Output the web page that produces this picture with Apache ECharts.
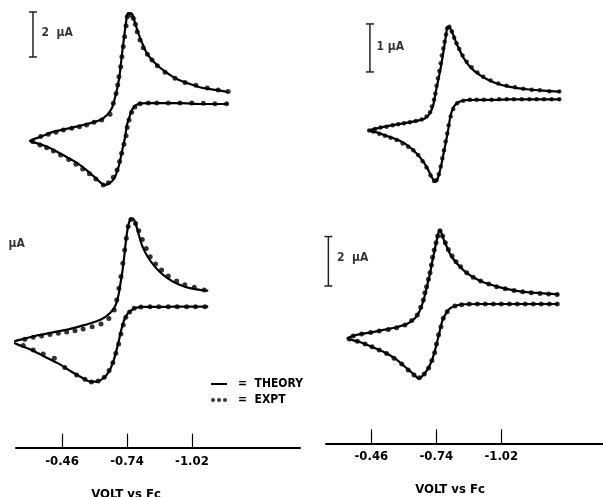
<!DOCTYPE html>
<html>
<head>
<meta charset="utf-8">
<script src="https://cdn.jsdelivr.net/npm/echarts@6/dist/echarts.min.js"></script>
<style>html,body{margin:0;padding:0;background:#fff}#c{width:603px;height:497px}</style>
</head>
<body>
<div id="c"></div>
<script>
// Potential (V vs Fc) and current (µA, cathodic up, relative to starting baseline)
var tickValues = [-0.46, -0.74, -1.02];

var tlTheory = [[-1.175,0],[-1.067,0],[-0.968,0.04],[-0.882,0.04],[-0.826,0.04],[-0.787,0],[-0.766,-0.18],[-0.753,-0.49],[-0.740,-0.93],[-0.731,-1.51],[-0.718,-2.13],[-0.706,-2.71],[-0.688,-3.24],[-0.667,-3.51],[-0.645,-3.60],[-0.624,-3.47],[-0.581,-3.07],[-0.525,-2.62],[-0.464,-2.27],[-0.408,-1.96],[-0.365,-1.78],[-0.322,-1.64],[-0.365,-1.47],[-0.421,-1.24],[-0.494,-1.07],[-0.568,-0.89],[-0.624,-0.71],[-0.654,-0.49],[-0.675,-0.18],[-0.688,0.27],[-0.701,0.84],[-0.710,1.42],[-0.718,2.18],[-0.727,2.93],[-0.736,3.64],[-0.744,4.04],[-0.762,4.00],[-0.774,3.64],[-0.787,3.20],[-0.809,2.62],[-0.830,2.18],[-0.869,1.73],[-0.912,1.38],[-0.955,1.11],[-1.011,0.89],[-1.067,0.71],[-1.128,0.62],[-1.175,0.53]];
var tlExpt = [[-1.169,0.01],[-1.119,0.01],[-1.069,0.03],[-1.019,0.04],[-0.968,0.04],[-0.918,0.04],[-0.868,0.04],[-0.832,0.04],[-0.796,0.01],[-0.774,-0.13],[-0.760,-0.37],[-0.749,-0.71],[-0.741,-1.05],[-0.736,-1.41],[-0.727,-1.79],[-0.717,-2.19],[-0.708,-2.56],[-0.697,-2.93],[-0.681,-3.26],[-0.660,-3.50],[-0.638,-3.60],[-0.606,-3.33],[-0.578,-3.10],[-0.549,-2.89],[-0.520,-2.68],[-0.489,-2.47],[-0.454,-2.27],[-0.423,-2.09],[-0.394,-1.94],[-0.365,-1.82],[-0.334,-1.67],[-0.368,-1.45],[-0.401,-1.35],[-0.434,-1.26],[-0.466,-1.16],[-0.502,-1.08],[-0.535,-1.01],[-0.566,-0.93],[-0.598,-0.81],[-0.631,-0.71],[-0.667,-0.46],[-0.681,0.03],[-0.693,0.47],[-0.700,0.84],[-0.705,1.21],[-0.713,1.66],[-0.718,2.10],[-0.724,2.55],[-0.730,2.99],[-0.736,3.48],[-0.741,3.88],[-0.756,3.96],[-0.767,3.81],[-0.776,3.54],[-0.784,3.21],[-0.796,2.84],[-0.810,2.50],[-0.828,2.21],[-0.848,1.96],[-0.871,1.70],[-0.904,1.41],[-0.947,1.14],[-0.990,0.96],[-1.037,0.83],[-1.086,0.71],[-1.133,0.62],[-1.176,0.55]];

var trTheory = [[-1.273,0],[-1.201,0],[-1.129,0],[-1.057,0],[-0.985,-0.01],[-0.914,-0.01],[-0.863,-0.02],[-0.835,-0.06],[-0.816,-0.15],[-0.802,-0.33],[-0.792,-0.61],[-0.782,-0.88],[-0.770,-1.16],[-0.760,-1.40],[-0.749,-1.61],[-0.738,-1.72],[-0.724,-1.65],[-0.705,-1.47],[-0.684,-1.30],[-0.655,-1.13],[-0.619,-0.97],[-0.576,-0.85],[-0.526,-0.76],[-0.483,-0.69],[-0.451,-0.65],[-0.490,-0.60],[-0.540,-0.55],[-0.598,-0.50],[-0.655,-0.45],[-0.691,-0.40],[-0.713,-0.29],[-0.727,-0.12],[-0.738,0.16],[-0.750,0.44],[-0.761,0.71],[-0.773,1.06],[-0.782,1.34],[-0.789,1.51],[-0.799,1.49],[-0.813,1.34],[-0.830,1.13],[-0.849,0.94],[-0.873,0.75],[-0.906,0.58],[-0.950,0.44],[-1.000,0.33],[-1.057,0.26],[-1.129,0.21],[-1.201,0.18],[-1.273,0.16]];
var trExpt = [[-1.270,0],[-1.237,0],[-1.204,0],[-1.172,0],[-1.141,0],[-1.108,0],[-1.074,0],[-1.043,0],[-1.011,0],[-0.978,-0.01],[-0.945,-0.01],[-0.914,-0.01],[-0.885,-0.01],[-0.856,-0.03],[-0.830,-0.08],[-0.813,-0.20],[-0.802,-0.36],[-0.793,-0.54],[-0.787,-0.71],[-0.780,-0.88],[-0.773,-1.06],[-0.766,-1.23],[-0.759,-1.40],[-0.751,-1.56],[-0.741,-1.68],[-0.730,-1.70],[-0.715,-1.58],[-0.698,-1.42],[-0.681,-1.29],[-0.662,-1.16],[-0.641,-1.06],[-0.619,-0.99],[-0.595,-0.92],[-0.569,-0.85],[-0.543,-0.80],[-0.519,-0.76],[-0.494,-0.72],[-0.468,-0.67],[-0.451,-0.65],[-0.476,-0.62],[-0.500,-0.59],[-0.526,-0.57],[-0.552,-0.54],[-0.576,-0.52],[-0.601,-0.50],[-0.626,-0.48],[-0.652,-0.45],[-0.677,-0.42],[-0.698,-0.36],[-0.713,-0.27],[-0.721,-0.15],[-0.730,-0.01],[-0.736,0.12],[-0.741,0.28],[-0.747,0.44],[-0.753,0.59],[-0.759,0.75],[-0.764,0.91],[-0.770,1.06],[-0.776,1.20],[-0.782,1.35],[-0.787,1.48],[-0.796,1.51],[-0.807,1.41],[-0.817,1.28],[-0.827,1.17],[-0.839,1.05],[-0.853,0.91],[-0.871,0.78],[-0.892,0.67],[-0.917,0.56],[-0.942,0.47],[-0.974,0.39],[-1.007,0.33],[-1.043,0.28],[-1.079,0.25],[-1.115,0.22],[-1.151,0.20],[-1.186,0.19],[-1.227,0.17],[-1.270,0.16]];

var blTheory = [[-1.090,0],[-1.018,0],[-0.946,0],[-0.875,-0.01],[-0.817,-0.01],[-0.781,-0.04],[-0.760,-0.15],[-0.742,-0.32],[-0.728,-0.59],[-0.717,-0.96],[-0.707,-1.41],[-0.695,-1.92],[-0.681,-2.44],[-0.662,-2.89],[-0.638,-3.18],[-0.609,-3.33],[-0.580,-3.33],[-0.551,-3.18],[-0.501,-2.89],[-0.444,-2.52],[-0.386,-2.22],[-0.329,-1.92],[-0.286,-1.75],[-0.250,-1.58],[-0.286,-1.45],[-0.343,-1.30],[-0.415,-1.15],[-0.487,-1.01],[-0.559,-0.81],[-0.630,-0.56],[-0.666,-0.29],[-0.688,0.00],[-0.702,0.45],[-0.712,1.04],[-0.721,1.63],[-0.728,2.22],[-0.735,2.89],[-0.742,3.41],[-0.750,3.78],[-0.760,3.93],[-0.771,3.85],[-0.781,3.56],[-0.793,3.11],[-0.807,2.67],[-0.829,2.22],[-0.860,1.78],[-0.896,1.41],[-0.939,1.11],[-0.989,0.89],[-1.040,0.77],[-1.090,0.71]];
var blExpt = [[-1.076,0],[-1.035,0],[-0.997,0],[-0.956,0],[-0.918,0],[-0.877,0],[-0.839,0],[-0.800,-0.01],[-0.771,-0.07],[-0.751,-0.24],[-0.735,-0.47],[-0.724,-0.81],[-0.714,-1.21],[-0.704,-1.66],[-0.692,-2.07],[-0.679,-2.49],[-0.663,-2.84],[-0.642,-3.14],[-0.616,-3.30],[-0.587,-3.35],[-0.559,-3.23],[-0.523,-3.04],[-0.472,-2.70],[-0.427,-2.29],[-0.379,-2.10],[-0.336,-1.92],[-0.293,-1.73],[-0.257,-1.58],[-0.300,-1.45],[-0.336,-1.36],[-0.372,-1.30],[-0.408,-1.24],[-0.444,-1.18],[-0.480,-1.12],[-0.516,-1.07],[-0.551,-0.99],[-0.590,-0.89],[-0.628,-0.77],[-0.662,-0.52],[-0.685,-0.15],[-0.696,0.30],[-0.705,0.82],[-0.714,1.34],[-0.722,1.93],[-0.730,2.52],[-0.737,3.04],[-0.745,3.56],[-0.757,3.88],[-0.777,3.70],[-0.791,3.38],[-0.806,2.99],[-0.823,2.59],[-0.840,2.22],[-0.863,1.90],[-0.889,1.63],[-0.918,1.36],[-0.954,1.14],[-0.989,0.98],[-1.030,0.86],[-1.073,0.74]];

var brTheory = [[-1.266,0],[-1.187,0],[-1.100,0],[-1.014,0],[-0.928,0],[-0.856,-0.01],[-0.820,-0.08],[-0.799,-0.18],[-0.782,-0.38],[-0.767,-0.65],[-0.756,-1.05],[-0.744,-1.52],[-0.731,-2.00],[-0.716,-2.40],[-0.696,-2.74],[-0.674,-2.97],[-0.663,-3.01],[-0.641,-2.83],[-0.605,-2.54],[-0.562,-2.20],[-0.512,-1.93],[-0.454,-1.70],[-0.404,-1.52],[-0.357,-1.39],[-0.397,-1.25],[-0.454,-1.16],[-0.512,-1.05],[-0.569,-0.94],[-0.619,-0.78],[-0.648,-0.58],[-0.667,-0.31],[-0.681,0.03],[-0.693,0.43],[-0.703,0.84],[-0.713,1.24],[-0.721,1.65],[-0.730,2.05],[-0.739,2.46],[-0.747,2.79],[-0.753,2.99],[-0.760,2.93],[-0.770,2.66],[-0.785,2.32],[-0.802,1.98],[-0.828,1.65],[-0.864,1.31],[-0.899,1.08],[-0.943,0.88],[-0.993,0.73],[-1.043,0.61],[-1.100,0.51],[-1.158,0.46],[-1.215,0.42],[-1.266,0.39]];
var brExpt = [[-1.261,0],[-1.227,0],[-1.192,0],[-1.158,0],[-1.123,0],[-1.089,0],[-1.055,0],[-1.020,0],[-0.986,0],[-0.951,0],[-0.917,0],[-0.882,0],[-0.849,-0.03],[-0.820,-0.08],[-0.787,-0.31],[-0.770,-0.58],[-0.760,-0.92],[-0.750,-1.25],[-0.741,-1.62],[-0.733,-1.97],[-0.721,-2.29],[-0.707,-2.59],[-0.688,-2.83],[-0.667,-2.99],[-0.644,-2.87],[-0.619,-2.67],[-0.591,-2.43],[-0.558,-2.20],[-0.526,-2.00],[-0.494,-1.86],[-0.463,-1.73],[-0.433,-1.62],[-0.400,-1.51],[-0.365,-1.42],[-0.382,-1.30],[-0.418,-1.21],[-0.457,-1.15],[-0.494,-1.09],[-0.533,-1.03],[-0.569,-0.96],[-0.605,-0.85],[-0.634,-0.67],[-0.658,-0.45],[-0.673,-0.13],[-0.684,0.16],[-0.691,0.46],[-0.698,0.70],[-0.706,1.00],[-0.713,1.27],[-0.719,1.58],[-0.724,1.89],[-0.731,2.19],[-0.739,2.48],[-0.746,2.75],[-0.756,2.97],[-0.767,2.75],[-0.779,2.48],[-0.792,2.21],[-0.808,1.94],[-0.825,1.71],[-0.845,1.51],[-0.871,1.27],[-0.899,1.08],[-0.931,0.93],[-0.966,0.81],[-1.000,0.70],[-1.037,0.62],[-1.075,0.55],[-1.112,0.50],[-1.149,0.46],[-1.187,0.43],[-1.224,0.40],[-1.261,0.38]];

// Current scale bars: [potential, µA]
var tlBar = [[-0.335,2.09],[-0.335,4.09]];
var trBar = [[-0.454,0.57],[-0.454,1.57]];
var brBar = [[-0.275,0.73],[-0.275,2.73]];
// Scale labels: [potential, µA, text]
var tlLabel = [[-0.3695,3.15,'2  \u03bcA']];
var trLabel = [[-0.480,1.10,'1 \u03bcA']];
var blLabel = [[-0.2273,2.79,'\u03bcA']];
var brLabel = [[-0.310,1.86,'2  \u03bcA']];

var FONT = "'Liberation Sans Narrow','DejaVu Sans Condensed','Liberation Sans',sans-serif";
var STRETCH = 'condensed';

var chart = echarts.init(document.getElementById('c'), null, {renderer:'canvas'});

function xAxisCfg(grid, min, max, namePad){
  return {
    gridIndex: grid, type:'value', inverse:true, min:min, max:max,
    axisLine:{show:true, onZero:false, lineStyle:{color:'#000', width:2}},
    axisTick:{show:true, inside:true, length:14, customValues:tickValues, lineStyle:{color:'#000', width:1.2}},
    axisLabel:{show:true, customValues:tickValues, margin:7, color:'#000',
      fontFamily:FONT, fontStyle:STRETCH, fontWeight:'bold', fontSize:13,
      formatter:function(v){return v.toFixed(2);}},
    splitLine:{show:false},
    name:'VOLT vs Fc', nameLocation:'middle', nameGap:40,
    nameTextStyle:{color:'#000', fontFamily:FONT, fontStyle:STRETCH, fontWeight:'bold', fontSize:13, padding:namePad}
  };
}
function yAxisCfg(grid, min, max){
  return {gridIndex:grid, type:'value', show:false, min:min, max:max, splitLine:{show:false}};
}
function theory(data, xi, yi){
  return {name:'THEORY', type:'line', xAxisIndex:xi, yAxisIndex:yi, data:data, symbol:'none',
    smooth:0.3, lineStyle:{color:'#000', width:2.2}, itemStyle:{color:'#000'}, z:2, silent:true};
}
function expt(data, xi, yi, size){
  return {name:'EXPT', type:'scatter', xAxisIndex:xi, yAxisIndex:yi, data:data, symbol:'circle',
    symbolSize:size, itemStyle:{color:'#000'}, z:3, silent:true};
}
function bar(data, xi, yi){
  return {type:'line', xAxisIndex:xi, yAxisIndex:yi, data:data, symbol:'rect', symbolSize:[8,1.5],
    showAllSymbol:true, clip:false, lineStyle:{color:'#222', width:1.5}, itemStyle:{color:'#222'}, silent:true};
}
function label(data, xi, yi){
  return {type:'scatter', xAxisIndex:xi, yAxisIndex:yi, data:data, symbolSize:1, clip:false,
    itemStyle:{color:'rgba(0,0,0,0)'}, silent:true,
    label:{show:true, position:'right', distance:0, color:'#000', fontFamily:FONT, fontStyle:STRETCH, fontWeight:'bold', fontSize:12,
      formatter:function(p){return p.data[2];}}};
}

chart.setOption({
  animation:false,
  backgroundColor:'#fff',
  grid:[
    {left:16, top:0, width:284, height:447.7, containLabel:false, outerBoundsMode:'none'},
    {left:326, top:0, width:277, height:443.3, containLabel:false, outerBoundsMode:'none'}
  ],
  xAxis:[
    xAxisCfg(0, -1.4854, -0.2618, [0,64,0,0]),
    xAxisCfg(1, -1.4582, -0.2648, [0,29,0,0])
  ],
  yAxis:[
    yAxisCfg(0, -15.2756, 4.6222),
    yAxisCfg(0, -6.2667, 13.6311),
    yAxisCfg(1, -7.1667, 2.06875),
    yAxisCfg(1, -5.6397, 12.3077)
  ],
  legend:{
    show:true, orient:'vertical', left:206, top:372, itemWidth:16, itemHeight:4, itemGap:2,
    selectedMode:false,
    data:[
      {name:'THEORY', icon:'path://M0,0L0.01,0L0.01,0.01L0,0.01ZM0,1.1L16,1.1L16,2.9L0,2.9ZM0,4L0.01,4L0.01,3.99L0,3.99Z'},
      {name:'EXPT', icon:'path://M2,0A2,2 0 1 1 2,4A2,2 0 1 1 2,0ZM8,0A2,2 0 1 1 8,4A2,2 0 1 1 8,0ZM14,0A2,2 0 1 1 14,4A2,2 0 1 1 14,0Z'}
    ],
    formatter:function(n){return '=  ' + n;},
    textStyle:{color:'#000', fontFamily:FONT, fontStyle:STRETCH, fontWeight:'bold', fontSize:12, lineHeight:14, padding:[0,0,0,6]}
  },
  series:[
    theory(tlTheory,0,0), expt(tlExpt,0,0,5),
    theory(blTheory,0,1), expt(blExpt,0,1,5),
    theory(trTheory,1,2), expt(trExpt,1,2,4.5),
    theory(brTheory,1,3), expt(brExpt,1,3,5),
    bar(tlBar,0,0), bar(trBar,1,2), bar(brBar,1,3),
    label(tlLabel,0,0), label(trLabel,1,2), label(blLabel,0,1), label(brLabel,1,3)
  ]
});
</script>
</body>
</html>
